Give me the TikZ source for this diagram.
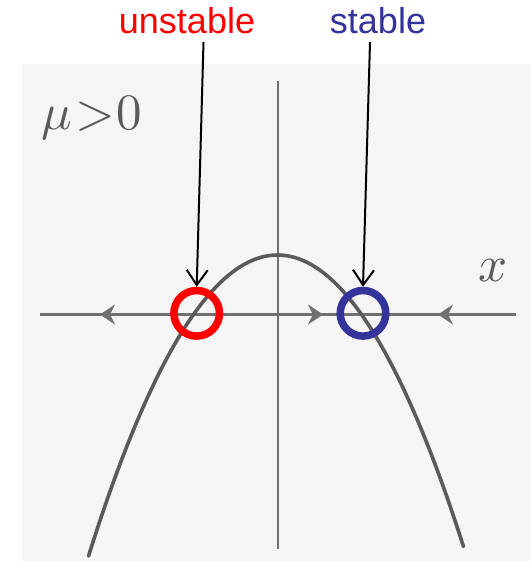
\documentclass[tikz,border=0pt]{standalone}
\usepackage[no-math]{fontspec}
\newfontfamily\labfont{Liberation Sans}
\usetikzlibrary{arrows.meta}
\definecolor{bgscan}{HTML}{F5F5F5}
\definecolor{curvegray}{HTML}{5A5A5A}
\definecolor{axisgray}{HTML}{707070}
\definecolor{stableblue}{HTML}{333399}
\definecolor{unstablered}{HTML}{FF0000}
\tikzset{
  axisline/.style={draw=axisgray, line width=2.2pt},
  axarrow/.style={draw=axisgray, fill=axisgray, line width=1.2pt, -{Stealth[length=15pt,width=20pt,inset=5pt]}},
  curveline/.style={draw=curvegray, line width=3.6pt, line cap=round},
  ring/.style={circle, draw=#1, line width=7.5pt, minimum size=45.6pt, inner sep=0pt},
  pointer/.style={draw=black, line width=2pt, -{Straight Barb[length=15pt,width=21pt]}},
  lab/.style={font=\labfont\fontsize{36}{43}\selectfont, anchor=base, inner sep=0pt},
  mathlab/.style={text=curvegray, scale=5.1, inner sep=0pt}
}
\begin{document}
\begin{tikzpicture}[x=1pt,y=-1pt]
\useasboundingbox (0,0) rectangle (531,561);
% scanned background
\fill[bgscan] (22,64) rectangle (531,561);
% axes
\coordinate (xl) at (40,314.5);
\coordinate (xr) at (516,314.5);
\coordinate (yt) at (278,81);
\coordinate (yb) at (278,549);
\path[axisline] (xl) -- (xr);
\path[axisline] (yt) -- (yb);
% flow arrows on the axis
\coordinate (f1s) at (118,314.5); \coordinate (f1e) at (100,314.5);
\coordinate (f2s) at (305,314.5); \coordinate (f2e) at (323,314.5);
\coordinate (f3s) at (456,314.5); \coordinate (f3e) at (438,314.5);
\draw[axarrow] (f1s) -- (f1e);
\draw[axarrow] (f2s) -- (f2e);
\draw[axarrow] (f3s) -- (f3e);
% parabola
\draw[curveline] plot[domain=-189:186, samples=90] ({277.5+\x},{255+(0.09181*\x)*(0.09181*\x)});
% math labels
\node[mathlab] (mu) at (92,118) {$\mu\mkern1mu{>}\mkern0.5mu0$};
\node[mathlab] (xlab) at (493,271) {$x$};
% rings
\node[ring=unstablered] (uc) at (196.7,313.3) {};
\node[ring=stableblue] (sc) at (363,313.3) {};
% text labels
\node[lab, text=unstablered] (ut) at (187,34) {unstable};
\node[lab, text=stableblue] (st) at (378,34) {stable};
\coordinate (us) at (203.5,42);
\coordinate (ss) at (370,42);
\draw[pointer] (us) -- (uc.north);
\draw[pointer] (ss) -- (sc.north);
\end{tikzpicture}
\end{document}
